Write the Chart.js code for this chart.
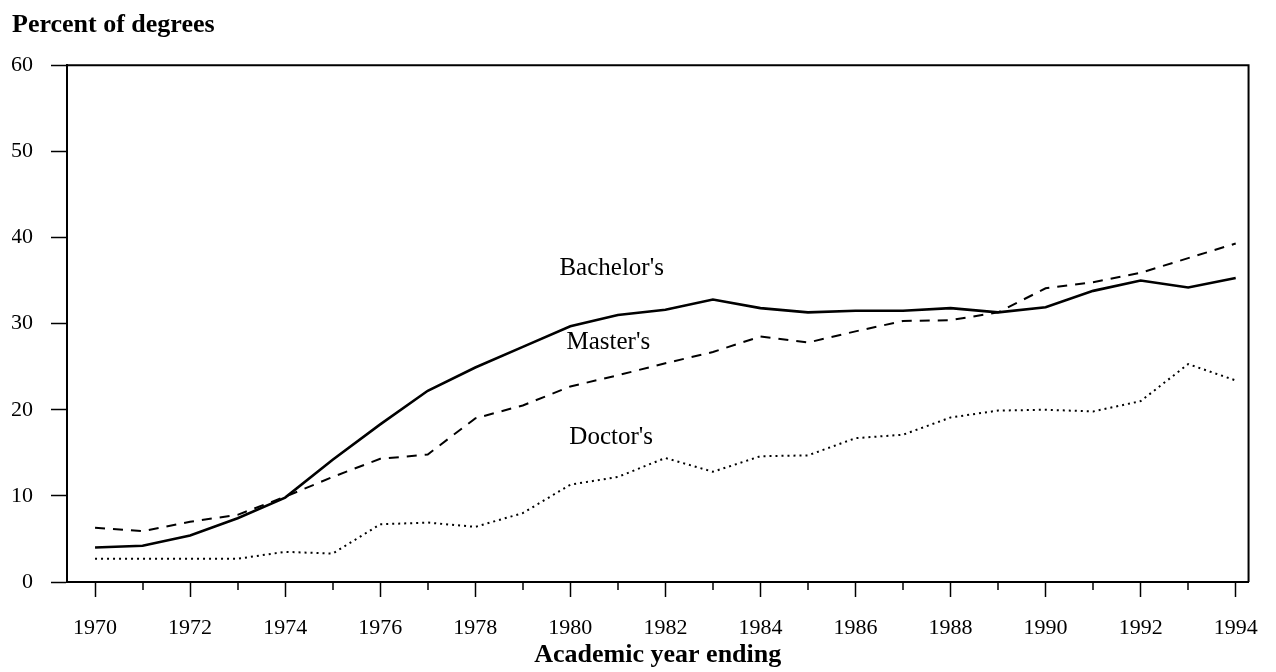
<!DOCTYPE html>
<html><head><meta charset="utf-8">
<script src="https://cdn.jsdelivr.net/npm/chart.js@4"></script>
<style>html,body{margin:0;padding:0;background:#fff}#wrap{width:1276px;height:672px}</style>
</head><body><div id="wrap"><canvas id="c" width="1276" height="672"></canvas></div>
<script>
const years = [1970,1971,1972,1973,1974,1975,1976,1977,1978,1979,1980,1981,1982,1983,1984,1985,1986,1987,1988,1989,1990,1991,1992,1993,1994];
const bachelors = [4.0,4.2,5.4,7.4,9.8,14.2,18.3,22.2,24.9,27.3,29.7,31.0,31.6,32.8,31.8,31.3,31.5,31.5,31.8,31.3,31.9,33.8,35.0,34.2,35.3];
const masters = [6.3,5.9,7.0,7.8,9.9,12.2,14.3,14.8,19.0,20.5,22.7,24.0,25.4,26.7,28.5,27.8,29.1,30.3,30.4,31.3,34.1,34.8,35.9,37.6,39.3];
const doctors = [2.7,2.7,2.7,2.7,3.5,3.3,6.7,6.9,6.4,8.0,11.3,12.2,14.4,12.8,14.6,14.7,16.7,17.1,19.1,19.9,20.0,19.8,21.0,25.3,23.4];
const yTicks = [0,10,20,30,40,50,60];
const seriesLabels = [
  {text:"Bachelor's", x:1980.87, y:36.4},
  {text:"Master's", x:1980.8, y:27.8},
  {text:"Doctor's", x:1980.86, y:16.8}
];
const FONT = "'Liberation Serif', 'Times New Roman', serif";

const pts = arr => arr.map((v,i)=>({x:years[i], y:v}));

const extras = {
  id:'extras',
  afterDraw(chart){
    const ctx = chart.ctx, a = chart.chartArea, xs = chart.scales.x, ys = chart.scales.y;
    ctx.save();
    ctx.strokeStyle = '#000';
    ctx.lineWidth = 2;
    ctx.beginPath();
    ctx.moveTo(a.left, a.top); ctx.lineTo(a.right, a.top); ctx.lineTo(a.right, a.bottom);
    ctx.stroke();
    // short ticks for odd years
    ctx.lineWidth = 1.5;
    years.forEach(y=>{
      if (y % 2 === 1){
        const px = Math.round(xs.getPixelForValue(y));
        ctx.beginPath(); ctx.moveTo(px, a.bottom); ctx.lineTo(px, a.bottom+8); ctx.stroke();
      }
    });
    // series labels
    ctx.fillStyle = '#000';
    ctx.font = "25px " + FONT;
    ctx.textAlign = 'center'; ctx.textBaseline = 'middle';
    seriesLabels.forEach(l=>{
      ctx.fillText(l.text, xs.getPixelForValue(l.x), ys.getPixelForValue(l.y));
    });
    ctx.restore();
  }
};

new Chart(document.getElementById('c'), {
  type:'line',
  data:{
    datasets:[
      {label:"Bachelor's", data:pts(bachelors), borderColor:'#000', borderWidth:2.6, pointRadius:0, tension:0, fill:false},
      {label:"Master's", data:pts(masters), borderColor:'#000', borderWidth:2, borderDash:[10,8], pointRadius:0, tension:0, fill:false},
      {label:"Doctor's", data:pts(doctors), borderColor:'#000', borderWidth:2, borderDash:[2,4], pointRadius:0, tension:0, fill:false}
    ]
  },
  options:{
    responsive:false, animation:false, devicePixelRatio:1,
    layout:{padding:{left:12, right:26, top:0, bottom:0}},
    plugins:{
      legend:{display:false}, tooltip:{enabled:false},
      title:{display:true, text:'Percent of degrees', align:'start', color:'#000',
        font:{family:FONT, size:26, weight:'bold', lineHeight:1.2}, padding:{top:10, bottom:24}}
    },
    scales:{
      x:{type:'linear', min:1969.41, max:1994.27,
        afterBuildTicks: s => { s.ticks = years.map(v=>({value:v})); },
        afterFit: s => { s.height = 90; },
        grid:{drawOnChartArea:false, drawTicks:true, tickLength:15, tickWidth:1.5,
          tickColor: c => (c.tick && c.tick.value % 2 === 0) ? '#000' : 'rgba(0,0,0,0)'},
        border:{display:true, color:'#000', width:2},
        ticks:{color:'#000', font:{family:FONT, size:22}, padding:18, maxRotation:0, autoSkip:false,
          callback: v => (v % 2 === 0 ? String(v) : '')},
        title:{display:true, text:'Academic year ending', color:'#000',
          font:{family:FONT, size:26, weight:'bold', lineHeight:1.2}, padding:{top:0, bottom:1}}
      },
      y:{min:0, max:60,
        afterBuildTicks: s => { s.ticks = yTicks.map(v=>({value:v})); },
        afterFit: s => { s.width = 55; },
        grid:{drawOnChartArea:false, drawTicks:true, tickLength:16, tickWidth:1.5, tickColor:'#000'},
        border:{display:true, color:'#000', width:2},
        ticks:{color:'#000', font:{family:FONT, size:22}, padding:18}
      }
    }
  },
  plugins:[extras]
});
</script></body></html>
